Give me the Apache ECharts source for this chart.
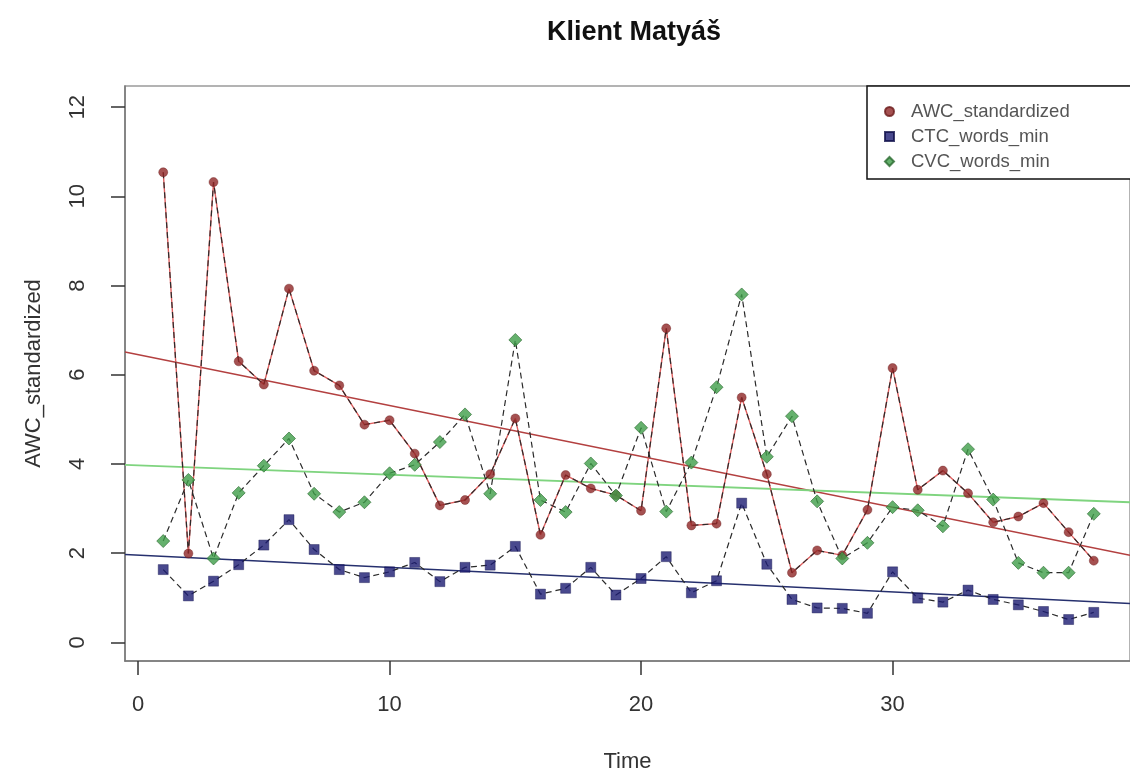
<!DOCTYPE html>
<html>
<head>
<meta charset="utf-8">
<script src="https://cdn.jsdelivr.net/npm/echarts@6/dist/echarts.min.js"></script>
<style>html,body{margin:0;padding:0;background:#fff}#c{width:1130px;height:778px}</style>
</head>
<body>
<div id="c"></div>
<script>
const times = [1,2,3,4,5,6,7,8,9,10,11,12,13,14,15,16,17,18,19,20,21,22,23,24,25,26,27,28,29,30,31,32,33,34,35,36,37,38];
const awc = [10.54,1.99,10.32,6.30,5.78,7.93,6.09,5.76,4.88,4.98,4.23,3.07,3.19,3.77,5.02,2.41,3.75,3.45,3.30,2.95,7.04,2.62,2.66,5.49,3.77,1.56,2.06,1.95,2.97,6.15,3.42,3.85,3.34,2.69,2.82,3.12,2.47,1.83];
const ctc = [1.63,1.04,1.37,1.74,2.18,2.75,2.08,1.63,1.45,1.58,1.79,1.36,1.68,1.73,2.15,1.08,1.21,1.68,1.06,1.43,1.92,1.11,1.38,3.12,1.75,0.96,0.77,0.76,0.65,1.58,0.99,0.90,1.17,0.96,0.84,0.69,0.51,0.67];
const cvc = [2.27,3.64,1.88,3.35,3.96,4.57,3.33,2.92,3.14,3.79,3.98,4.49,5.11,3.33,6.78,3.19,2.92,4.01,3.29,4.81,2.93,4.03,5.72,7.80,4.16,5.07,3.16,1.88,2.23,3.03,2.96,2.60,4.33,3.20,1.78,1.56,1.56,2.88];
// trend line end points: [time, value]
const trendAwc = [[-0.52, 6.51], [39.44, 1.95]];
const trendCvc = [[-0.52, 3.98], [39.44, 3.14]];
const trendCtc = [[-0.52, 1.97], [39.44, 0.87]];
const xTicks = [0, 10, 20, 30];
const yTicks = [0, 2, 4, 6, 8, 10, 12];
const names = ['AWC_standardized', 'CTC_words_min', 'CVC_words_min'];

const pairs = arr => times.map((t, i) => [t, arr[i]]);
const FONT = '"Liberation Sans", Arial, sans-serif';
const dash = { color: '#2a2a2a', width: 1.2, type: [6, 4] };

const chart = echarts.init(document.getElementById('c'), null, { renderer: 'canvas' });
chart.setOption({
  animation: false,
  backgroundColor: '#fff',
  textStyle: { fontFamily: FONT },
  title: {
    text: 'Klient Matyáš',
    left: 629, top: 14, textAlign: 'center',
    textStyle: { fontFamily: FONT, fontSize: 27, fontWeight: 'bold', color: '#111' }
  },
  grid: { left: 125, top: 86, right: -2, bottom: 113, show: true, borderColor: '#9a9a9a', borderWidth: 1.5 },
  legend: {
    orient: 'vertical', left: 867, top: 86,
    padding: [16, 120, 8, 17],
    itemGap: 6, itemWidth: 9, itemHeight: 9,
    borderColor: '#111', borderWidth: 1.5, backgroundColor: '#fff',
    textStyle: { fontFamily: FONT, fontSize: 18.5, color: '#555', padding: [0, 0, 0, 12] },
    data: [
      { name: names[0], icon: 'circle' },
      { name: names[1], icon: 'rect' },
      { name: names[2], icon: 'diamond' }
    ]
  },
  xAxis: {
    type: 'value', min: -0.52, max: 39.44,
    name: 'Time', nameLocation: 'middle', nameGap: 90,
    nameTextStyle: { fontFamily: FONT, fontSize: 22, color: '#333' },
    axisLine: { onZero: false, lineStyle: { color: '#777', width: 1.5 } },
    axisTick: { show: true, length: 14, customValues: xTicks, lineStyle: { color: '#333', width: 1.5 } },
    axisLabel: { customValues: xTicks, margin: 33, fontFamily: FONT, fontSize: 22, color: '#333' },
    splitLine: { show: false }
  },
  yAxis: {
    type: 'value', min: -0.42, max: 12.475,
    name: 'AWC_standardized', nameLocation: 'middle', nameGap: 80,
    nameTextStyle: { fontFamily: FONT, fontSize: 22, color: '#333' },
    axisLine: { show: true, onZero: false, lineStyle: { color: '#777', width: 1.5 } },
    axisTick: { show: true, length: 14, customValues: yTicks, lineStyle: { color: '#333', width: 1.5 } },
    axisLabel: { customValues: yTicks, rotate: 90, margin: 36, fontFamily: FONT, fontSize: 22, color: '#333' },
    splitLine: { show: false }
  },
  series: [
    { name: 'trendAwc', type: 'line', data: trendAwc, symbol: 'none', silent: true, z: 1,
      lineStyle: { color: '#b34040', width: 1.4 } },
    { name: 'trendCvc', type: 'line', data: trendCvc, symbol: 'none', silent: true, z: 1,
      lineStyle: { color: '#7fd47f', width: 1.8 } },
    { name: 'trendCtc', type: 'line', data: trendCtc, symbol: 'none', silent: true, z: 1,
      lineStyle: { color: '#26306e', width: 1.4 } },
    { name: 'awcLine', type: 'line', data: pairs(awc), symbol: 'none', silent: true, z: 2,
      lineStyle: { color: '#e06060', width: 1.4 } },
    { name: 'awcDash', type: 'line', data: pairs(awc), symbol: 'none', silent: true, z: 3, lineStyle: dash },
    { name: 'ctcDash', type: 'line', data: pairs(ctc), symbol: 'none', silent: true, z: 3, lineStyle: dash },
    { name: 'cvcDash', type: 'line', data: pairs(cvc), symbol: 'none', silent: true, z: 3, lineStyle: dash },
    { name: names[0], type: 'scatter', data: pairs(awc), symbol: 'circle', symbolSize: 9, z: 5,
      itemStyle: { color: '#8e2626', borderColor: '#6a1a1a', borderWidth: 0.5 } },
    { name: names[1], type: 'scatter', data: pairs(ctc), symbol: 'rect', symbolSize: 10, z: 5,
      itemStyle: { color: '#1b1b72', borderColor: '#10104a', borderWidth: 0.5 } },
    { name: names[2], type: 'scatter', data: pairs(cvc), symbol: 'diamond', symbolSize: 13, z: 5,
      itemStyle: { color: '#3f9e48', borderColor: '#2a6a30', borderWidth: 0.8 } }
  ]
});
</script>
</body>
</html>
